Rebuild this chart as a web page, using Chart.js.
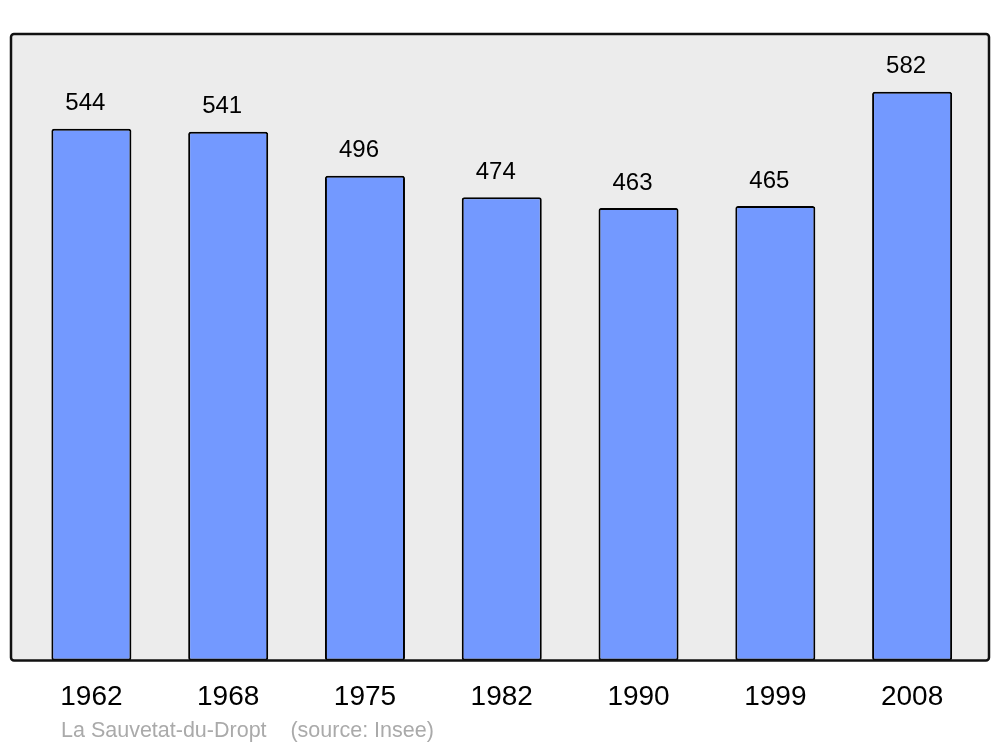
<!DOCTYPE html>
<html>
<head>
<meta charset="utf-8">
<script src="https://cdn.jsdelivr.net/npm/chart.js@4/dist/chart.umd.min.js"></script>
<style>
  html, body { margin: 0; padding: 0; background: #fff; }
  #wrap { width: 1000px; height: 747px; }
</style>
</head>
<body>
<div id="wrap"><canvas id="myChart" width="1000" height="747"></canvas></div>
<script>
// données : population par année de recensement
var annees = ['1962', '1968', '1975', '1982', '1990', '1999', '2008'];
var population = [544, 541, 496, 474, 463, 465, 582];
var legende = 'La Sauvetat-du-Dropt    (source: Insee)';

var police = '"Liberation Sans", Arial, sans-serif';

// fond gris avec cadre arrondi
var cadre = {
  id: 'cadre',
  beforeDatasetsDraw: function (chart) {
    var a = chart.chartArea, ctx = chart.ctx;
    var l = a.left - 12, r = a.right + 8.5, t = a.top, b = a.bottom;
    ctx.save();
    ctx.beginPath();
    ctx.roundRect(l, t, r - l, b - t, 3);
    ctx.fillStyle = '#ececec';
    ctx.fill();
    ctx.restore();
  },
  afterDatasetsDraw: function (chart) {
    var a = chart.chartArea, ctx = chart.ctx;
    var l = a.left - 12, r = a.right + 8.5, t = a.top, b = a.bottom;
    ctx.save();
    ctx.beginPath();
    ctx.roundRect(l, t, r - l, b - t, 3);
    ctx.lineWidth = 2.5;
    ctx.strokeStyle = '#111';
    ctx.stroke();
    // valeurs au-dessus des barres
    var meta = chart.getDatasetMeta(0);
    ctx.fillStyle = '#000';
    ctx.font = '24px ' + police;
    ctx.textAlign = 'center';
    ctx.textBaseline = 'middle';
    meta.data.forEach(function (bar, i) {
      ctx.fillText(population[i], bar.x - 6, bar.y - 25);
    });
    // source
    ctx.fillStyle = '#aaaaaa';
    ctx.font = '21.5px ' + police;
    ctx.textAlign = 'left';
    ctx.fillText(legende, 61, 731.5);
    ctx.restore();
  }
};

var ctx = document.getElementById('myChart').getContext('2d');
var myChart = new Chart(ctx, {
  type: 'bar',
  data: {
    labels: annees,
    datasets: [{
      data: population,
      backgroundColor: '#7399ff',
      borderColor: '#000',
      borderWidth: 2,
      borderRadius: 2.5,
      borderSkipped: false,
      barPercentage: 0.585,
      categoryPercentage: 1
    }]
  },
  options: {
    responsive: false,
    animation: false,
    layout: { padding: { left: 23, right: 19.5, top: 34, bottom: 13 } },
    plugins: { legend: { display: false }, tooltip: { enabled: false } },
    scales: {
      x: {
        grid: { display: false, drawTicks: false },
        border: { display: false },
        ticks: { color: '#000', font: { family: police, size: 28 }, padding: 20 }
      },
      y: {
        display: false,
        min: 0,
        max: 641
      }
    }
  },
  plugins: [cadre]
});
</script>
</body>
</html>
